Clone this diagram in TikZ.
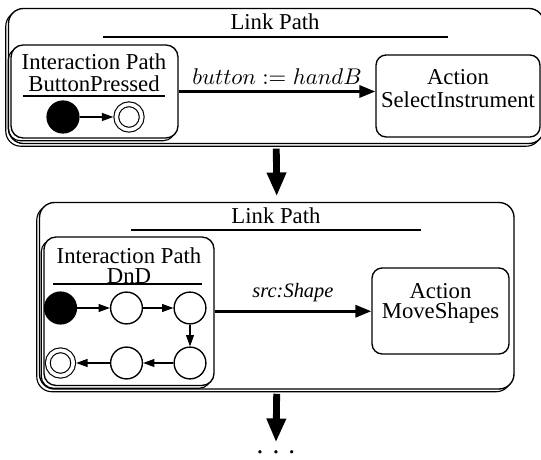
\documentclass[tikz,border=0pt]{standalone}
\usepackage{fontspec}
\setmainfont{Liberation Serif}
\usetikzlibrary{arrows.meta,fit}
\tikzset{
  pathbox/.style={draw, line width=0.6pt, fill=white, rounded corners=#1, inner sep=0pt,
    preaction={draw, line width=0.5pt, transform canvas={xshift=-1.2pt, yshift=-1.2pt}}},
  actbox/.style={draw, line width=0.6pt, rounded corners=4.5pt, inner sep=0pt},
  lbl/.style={align=center, font=\fontsize{10}{#1}\selectfont},
  st/.style={draw, circle, line width=0.6pt, minimum size=14pt, inner sep=0pt},
  stinit/.style={st, fill=black},
  stfinal/.style={st, double, double distance=1.6pt, line width=0.5pt, minimum size=11.2pt, outer sep=1.3pt},
  trans/.style={-{Triangle[width=3.5pt,length=5pt]}, line width=0.5pt},
  link/.style={-{Triangle[width=5.3pt,length=7pt]}, line width=1.3pt},
  flow/.style={-{Triangle[width=8pt,length=10.5pt]}, line width=3pt},
  rule/.style={line width=0.7pt}
}
\begin{document}
\begin{tikzpicture}[x=0.44pt, y=-0.44pt]
  \useasboundingbox (0,0) rectangle (541,460);
  % first link path
  \node[pathbox=6.6pt, fit={(8.5,8.5) (544,143.5)}] (lp1) {};
  \node[lbl=12pt] (lt1) at (275,22) {Link Path};
  \draw[rule] (103,37) -- (448,37);
  \node[pathbox=5.3pt, fit={(11,45) (178,138)}] (ip1) {};
  \node[lbl=9.8pt] (it1) at (94,72.5) {Interaction Path\\ButtonPressed};
  \draw[rule] (23,96) -- (165,96);
  \node[stinit] (s1) at (63,117) {};
  \node[stfinal] (f1) at (129,117) {};
  \draw[trans] (s1) -- (f1);
  \node[actbox, lbl=10pt, fit={(376,55) (540,137)}] (a1) {Action\\SelectInstrument};
  \draw[link] (ip1.east) -- (ip1.east -| a1.west)
    node[midway, above, inner sep=2.5pt] {$button := handB$};
  % second link path
  \node[pathbox=6.6pt, fit={(39.5,202.5) (514,389)}] (lp2) {};
  \node[lbl=12pt] (lt2) at (276,216) {Link Path};
  \draw[rule] (131,230) -- (421,230);
  \node[pathbox=5.3pt, fit={(44,237) (214,385.5)}] (ip2) {};
  \node[lbl=8.5pt] (it2) at (129,265.5) {Interaction Path\\DnD};
  \draw[rule] (53,284) -- (202,284);
  \node[stinit] (s2) at (60.5,308) {};
  \node[st] (c1) at (126.5,308) {};
  \node[st] (c2) at (190,308) {};
  \node[st] (c3) at (190,363) {};
  \node[st] (c4) at (126.5,363) {};
  \node[stfinal] (f2) at (60.5,363) {};
  \draw[trans] (s2) -- (c1);
  \draw[trans] (c1) -- (c2);
  \draw[trans] (c2) -- (c3);
  \draw[trans] (c3) -- (c4);
  \draw[trans] (c4) -- (f2);
  \node[actbox, lbl=8.5pt, fit={(372,268) (509,354)}] (a2) {Action\\MoveShapes};
  \draw[link] (ip2.east) -- (ip2.east -| a2.west)
    node[midway, above, font=\small\itshape] {src:Shape};
  % flow between link paths
  \node[font=\large] (dots) at (276,452) {. . .};
  \draw[flow, shorten <=2pt, shorten >=2.4pt] (lp1.south) -- (lp2.north);
  \draw[flow, shorten <=1.8pt] (lp2.south) -- (dots.north);
\end{tikzpicture}
\end{document}
